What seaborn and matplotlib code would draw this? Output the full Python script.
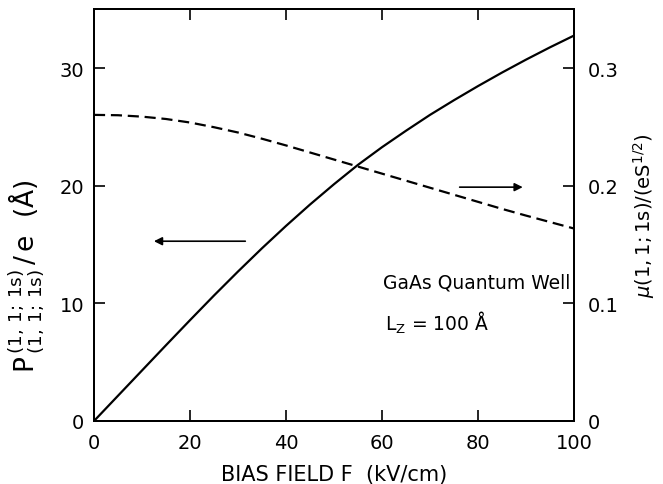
import matplotlib
matplotlib.use("Agg")
import matplotlib.pyplot as plt
import seaborn as sns
import pandas as pd

sns.set_theme(style="ticks")
plt.rcParams['font.family'] = ['DejaVu Sans']
plt.rcParams['mathtext.fontset'] = 'dejavusans'
plt.rcParams['text.color'] = 'black'
plt.rcParams['axes.labelcolor'] = 'black'
plt.rcParams['xtick.color'] = 'black'
plt.rcParams['ytick.color'] = 'black'

field = [0, 5, 10, 15, 20, 25, 30, 35, 40, 45, 50, 55, 60, 65, 70, 75, 80, 85, 90, 95, 100]
dipole = [0.0, 2.15, 4.3, 6.45, 8.58, 10.68, 12.72, 14.7, 16.6, 18.42, 20.15, 21.8, 23.3,
          24.7, 26.05, 27.3, 28.5, 29.65, 30.75, 31.8, 32.8]
mu = [0.2605, 0.2602, 0.259, 0.257, 0.254, 0.250, 0.2455, 0.2402, 0.2345, 0.2285, 0.2225,
      0.2165, 0.2105, 0.2045, 0.1985, 0.1925, 0.1865, 0.1805, 0.1748, 0.1693, 0.1638]

xticks = [0, 20, 40, 60, 80, 100]
yticks_left = [0, 10, 20, 30]
yticks_right = [0, 0.1, 0.2, 0.3]
yticklabels_right = ["0", "0.1", "0.2", "0.3"]

df = pd.DataFrame({"F": field, "P": dipole, "mu": mu})

W, H = 663, 485
fig = plt.figure(figsize=(W / 100, H / 100), dpi=100)
ax = fig.add_axes([94 / W, (H - 422) / H, (574 - 94) / W, (422 - 10) / H])
sns.lineplot(data=df, x="F", y="P", ax=ax, color="black", lw=1.6)
ax.set_xlim(0, 100)
ax.set_ylim(0, 35.06)
ax.set_xticks(xticks)
ax.set_yticks(yticks_left)
ax.tick_params(direction="in", length=8, width=1.2, labelsize=14, top=True, pad=7)
ax.tick_params(axis="x", pad=9)
ax.set_xlabel("BIAS FIELD F  (kV/cm)", fontsize=15, labelpad=8)
ax.set_ylabel(r"$\mathrm{P^{\,(1,\,1;\,1s)}_{\,(1,\,1;\,1s)}\,/\,e\ \ (\AA)}$", fontsize=19)
ax.yaxis.set_label_coords(-0.10, 0.355)

ax2 = ax.twinx()
sns.lineplot(data=df, x="F", y="mu", ax=ax2, color="black", lw=1.6, linestyle=(0, (5, 2.6)))
ax2.set_ylim(0, 0.3506)
ax2.set_yticks(yticks_right)
ax2.set_yticklabels(yticklabels_right)
ax2.tick_params(direction="in", length=8, width=1.2, labelsize=14, pad=10)
ax2.set_ylabel(r"$\mu\mathrm{(1,1;1s)/(eS^{1/2})}$", fontsize=14, labelpad=9)

for a in (ax, ax2):
    for s in a.spines.values():
        s.set_linewidth(1.4)
        s.set_color("black")

ax.annotate("", xy=(11.9, 15.3), xytext=(32.1, 15.3),
            arrowprops=dict(arrowstyle="-|>", color="black", lw=1.2, mutation_scale=12))
ax.annotate("", xy=(89.9, 19.9), xytext=(75.6, 19.9),
            arrowprops=dict(arrowstyle="-|>", color="black", lw=1.2, mutation_scale=12))
ax.text(60.2, 11.85, "GaAs Quantum Well", fontsize=13.5, va="center", ha="left")
ax.text(60.6, 8.45, r"L$_{\rm Z}$ = 100 Å", fontsize=13.5, va="center", ha="left")

fig.savefig("out.png", dpi=100)
